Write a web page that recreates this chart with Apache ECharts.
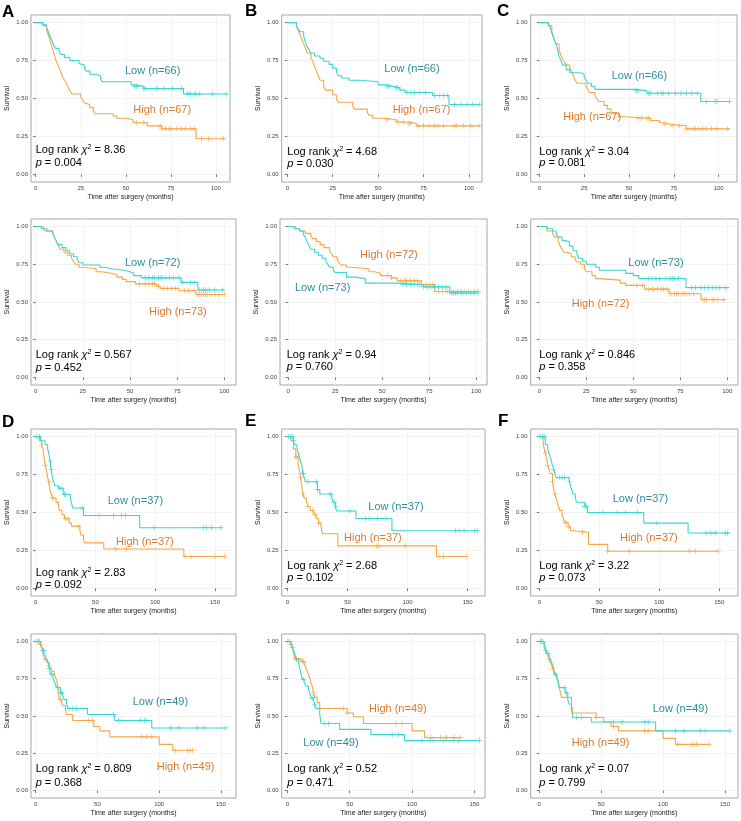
<!DOCTYPE html>
<html><head><meta charset="utf-8">
<script src="https://cdn.jsdelivr.net/npm/echarts@6/dist/echarts.min.js"></script>
<style>html,body{margin:0;padding:0;background:#fff}#c{width:741px;height:821px}</style>
</head><body><div id="c"></div>
<script>
// ---------- DATA (Kaplan-Meier step points [months, survival]) ----------
const lowA1 = [[0,1],[4,0.985],[6,0.97],[7,0.94],[8,0.91],[9,0.88],[10,0.85],[11,0.83],[13,0.81],[14,0.79],[16,0.77],[19,0.75],[24,0.73],[25,0.72],[27,0.70],[28,0.68],[30,0.66],[33,0.65],[36,0.63],[37,0.61],[53,0.59],[55,0.58],[60,0.565],[82,0.53],[106,0.53]];
const censLowA1 = [55,56,60,61,67,71,76,81,84,85,86,88,89,91,98,106];
const highA1 = [[0,1],[4,0.98],[6,0.95],[7,0.92],[8,0.88],[9,0.84],[10,0.80],[11,0.76],[12,0.73],[13,0.70],[14,0.67],[15,0.64],[16,0.62],[17,0.60],[18,0.575],[19,0.55],[20,0.53],[25,0.51],[26,0.49],[27,0.47],[28,0.46],[30,0.44],[32,0.42],[33,0.40],[43,0.385],[45,0.37],[50,0.36],[54,0.34],[62,0.32],[70,0.30],[89,0.235],[105,0.235]];
const censHighA1 = [56,60,69,70,72,74,75,78,81,83,86,88,92,96,104];

const lowB1 = [[0,1],[5,0.985],[6,0.955],[7,0.94],[9,0.91],[10,0.87],[11,0.84],[12,0.82],[13,0.80],[15,0.78],[18,0.765],[20,0.745],[23,0.725],[25,0.70],[27,0.68],[28,0.65],[30,0.635],[34,0.62],[40,0.61],[50,0.59],[55,0.58],[58,0.57],[62,0.555],[65,0.54],[80,0.52],[89,0.46],[106,0.46]];
const censLowB1 = [55,56,60,61,66,68,70,73,76,81,84,86,88,92,96,99,102,106];
const highB1 = [[0,1],[5,0.975],[6,0.95],[7,0.92],[8,0.89],[9,0.86],[10,0.83],[11,0.80],[13,0.77],[14,0.745],[15,0.71],[16,0.68],[17,0.65],[18,0.62],[20,0.58],[21,0.555],[25,0.525],[27,0.50],[28,0.475],[36,0.45],[37,0.43],[44,0.41],[45,0.39],[47,0.37],[54,0.36],[60,0.345],[67,0.335],[71,0.32],[106,0.32]];
const censHighB1 = [55,61,64,67,68,72,75,78,81,83,86,92,93,97,101,106];

const lowC1 = [[0,1],[5,0.985],[6,0.97],[7,0.93],[8,0.90],[9,0.87],[10,0.83],[11,0.78],[12,0.75],[13,0.72],[15,0.69],[17,0.67],[23,0.66],[25,0.64],[26,0.62],[27,0.60],[29,0.58],[31,0.56],[54,0.55],[60,0.535],[90,0.48],[106,0.48]];
const censLowC1 = [54,55,61,62,66,68,69,72,76,79,82,85,88,93,98,99,106];
const highC1 = [[0,1],[5,0.98],[7,0.94],[8,0.90],[9,0.86],[11,0.82],[12,0.785],[13,0.76],[14,0.74],[15,0.72],[17,0.70],[18,0.68],[19,0.65],[20,0.62],[21,0.60],[26,0.58],[27,0.56],[28,0.54],[31,0.52],[32,0.50],[33,0.48],[36,0.455],[38,0.43],[40,0.40],[44,0.38],[47,0.37],[62,0.355],[67,0.34],[70,0.33],[73,0.32],[82,0.30],[106,0.30]];
const censHighC1 = [55,57,60,61,70,74,78,82,84,86,87,89,91,93,96,99,105];

const lowA2 = [[0,1],[3,0.985],[6,0.97],[9,0.955],[10,0.93],[11,0.90],[12,0.88],[14,0.86],[16,0.84],[18,0.82],[20,0.80],[22,0.78],[23,0.76],[25,0.745],[34,0.73],[37,0.72],[40,0.71],[47,0.70],[50,0.69],[52,0.675],[56,0.66],[77,0.63],[86,0.58],[100,0.58]];
const censLowA2 = [58,60,62,63,65,66,67,69,71,73,76,78,82,84,87,89,90,92,95,99];
const highA2 = [[0,1],[4,0.985],[5,0.97],[9,0.955],[10,0.93],[11,0.90],[12,0.875],[13,0.85],[15,0.83],[17,0.81],[19,0.79],[20,0.77],[21,0.75],[23,0.73],[25,0.72],[32,0.70],[35,0.69],[40,0.68],[43,0.665],[46,0.65],[48,0.635],[53,0.62],[64,0.605],[66,0.59],[76,0.575],[85,0.55],[100,0.55]];
const censHighA2 = [55,58,60,62,63,65,68,70,72,74,79,81,84,86,87,88,89,90,91,93,95,97,100];

const lowB2 = [[0,1],[3,0.985],[6,0.97],[8,0.95],[9,0.93],[10,0.90],[11,0.875],[12,0.85],[14,0.83],[16,0.81],[18,0.79],[20,0.77],[21,0.75],[22,0.73],[24,0.71],[25,0.695],[31,0.665],[36,0.655],[41,0.625],[58,0.615],[72,0.60],[86,0.56],[101,0.56]];
const censLowB2 = [61,63,65,67,69,70,72,74,76,78,80,82,84,87,88,89,90,92,93,95,97,99,101];
const highB2 = [[0,1],[4,0.985],[6,0.97],[9,0.955],[12,0.94],[13,0.92],[15,0.90],[17,0.88],[19,0.86],[22,0.84],[23,0.82],[24,0.80],[26,0.78],[27,0.76],[28,0.745],[31,0.73],[33,0.72],[43,0.70],[46,0.69],[49,0.675],[55,0.66],[58,0.64],[71,0.615],[78,0.57],[101,0.57]];
const censHighB2 = [53,55,60,62,63,65,67,69,71,73,75,77,80,82,84,85,86,88,90,92,94,96,99,101];

const lowC2 = [[0,1],[4,0.985],[7,0.97],[9,0.95],[10,0.93],[12,0.91],[13,0.90],[16,0.87],[18,0.84],[20,0.82],[21,0.79],[23,0.77],[25,0.75],[30,0.73],[32,0.71],[46,0.69],[50,0.675],[53,0.655],[78,0.595],[101,0.595]];
const censLowC2 = [58,60,62,64,67,69,70,71,72,74,81,83,86,88,90,92,94,96,99];
const highC2 = [[0,1],[4,0.97],[7,0.955],[8,0.93],[10,0.90],[11,0.875],[12,0.85],[13,0.83],[15,0.82],[17,0.80],[19,0.78],[20,0.765],[22,0.75],[24,0.72],[25,0.70],[28,0.675],[30,0.655],[32,0.645],[43,0.625],[46,0.61],[56,0.585],[69,0.555],[86,0.515],[99,0.515]];
const censHighC2 = [52,55,58,60,61,63,65,66,68,70,72,73,74,76,77,78,80,82,87,88,89,92,93,95,98];

const lowD1 = [[0,1],[4,0.973],[8,0.946],[10,0.919],[11,0.892],[12,0.838],[13,0.784],[14,0.73],[15,0.703],[16,0.676],[19,0.66],[23,0.62],[29,0.59],[30,0.56],[31,0.53],[40,0.48],[87,0.40],[155,0.40]];
const censLowD1 = [1,3,12.5,13,20,22,24,25,39,53,65,72,75,99,140,143,147,155];
const highD1 = [[0,1],[3,0.973],[5,0.946],[6,0.919],[7,0.865],[8,0.811],[9,0.784],[10,0.73],[11,0.703],[12,0.649],[13,0.622],[14,0.595],[17,0.567],[19,0.54],[20,0.513],[22,0.486],[24,0.459],[28,0.43],[30,0.41],[37,0.38],[38,0.35],[40,0.32],[41,0.30],[57,0.26],[124,0.21],[158,0.21]];
const censHighD1 = [5,8,11,14,25,27,36,67,76,125,130,150,158];

const lowE1 = [[0,1],[5,0.973],[6,0.946],[8,0.919],[9,0.892],[10,0.865],[11,0.838],[12,0.81],[13,0.757],[14,0.73],[15,0.703],[25,0.65],[27,0.622],[37,0.595],[38,0.567],[40,0.54],[41,0.51],[57,0.46],[87,0.38],[158,0.38]];
const censLowE1 = [1,3,4,5,13,13.5,17,24,25,36,39,40,52,65,68,75,82,140,143,147,156,158];
const highE1 = [[0,1],[3,0.973],[5,0.919],[7,0.865],[9,0.811],[10,0.784],[11,0.73],[12,0.676],[13,0.622],[14,0.595],[16,0.567],[17,0.54],[19,0.513],[22,0.486],[24,0.459],[26,0.43],[28,0.405],[29,0.36],[42,0.28],[124,0.21],[149,0.21]];
const censHighE1 = [7,8,11,13,17,21,23,26,74,76,98,126,130,149];

const lowF1 = [[0,1],[5,0.946],[7,0.919],[8,0.892],[9,0.865],[10,0.838],[11,0.81],[12,0.784],[13,0.757],[14,0.73],[25,0.703],[26,0.676],[27,0.649],[28,0.622],[30,0.595],[31,0.568],[38,0.541],[40,0.50],[87,0.43],[124,0.365],[158,0.365]];
const censLowF1 = [1,3,4,12,17,19,21,25,38,39,53,65,72,82,98,139,143,147,155,157];
const highF1 = [[0,1],[3,0.973],[4,0.919],[5,0.892],[6,0.865],[7,0.811],[8,0.784],[9,0.757],[11,0.703],[12,0.649],[13,0.622],[14,0.595],[15,0.568],[16,0.541],[17,0.514],[19,0.487],[20,0.46],[21,0.433],[24,0.406],[26,0.38],[28,0.37],[41,0.29],[57,0.245],[149,0.245]];
const censHighF1 = [5,7,11,13,22,24,36,57,75,125,130,149];

const lowD2 = [[0,1],[4,0.98],[5,0.96],[6,0.94],[7,0.92],[8,0.90],[9,0.88],[10,0.86],[11,0.82],[12,0.78],[14,0.755],[15,0.735],[16,0.71],[17,0.69],[20,0.655],[22,0.63],[23,0.61],[25,0.585],[26,0.55],[42,0.51],[64,0.47],[94,0.42],[154,0.42]];
const censLowD2 = [1,2,3,6,6.5,11,13,18,20,21,27,30,33,63,67,85,88,90,109,116,131,136,154];
const highD2 = [[0,1],[4,0.98],[5,0.96],[6,0.92],[7,0.88],[9,0.86],[11,0.84],[12,0.82],[13,0.80],[15,0.78],[16,0.76],[17,0.74],[18,0.69],[19,0.61],[21,0.59],[22,0.57],[24,0.55],[25,0.51],[30,0.47],[47,0.43],[52,0.40],[60,0.36],[100,0.31],[111,0.27],[127,0.27]];
const censHighD2 = [4,8,11,20,43,46,86,90,94,113,123,125,127];

const lowE2 = [[0,1],[3,0.98],[4,0.96],[5,0.94],[6,0.92],[7,0.88],[9,0.86],[10,0.82],[11,0.78],[12,0.745],[14,0.72],[15,0.70],[17,0.675],[18,0.655],[19,0.62],[21,0.60],[22,0.575],[23,0.55],[26,0.51],[27,0.45],[42,0.41],[67,0.375],[94,0.335],[154,0.335]];
const censLowE2 = [0.5,2,4,7.5,13,20,22,30,33,84,89,108,115,117,125,133,137,154];
const highE2 = [[0,1],[3,0.98],[4,0.96],[5,0.92],[6,0.885],[11,0.865],[14,0.84],[15,0.82],[16,0.80],[17,0.78],[18,0.755],[19,0.72],[20,0.70],[21,0.655],[22,0.625],[24,0.59],[26,0.55],[48,0.52],[53,0.495],[61,0.45],[100,0.40],[110,0.355],[139,0.355]];
const censHighE2 = [3,7,12,13,21,45,48,87,92,115,123,127,128,134,139];

const lowF2 = [[0,1],[4,0.96],[5,0.94],[6,0.92],[8,0.90],[9,0.88],[10,0.86],[11,0.84],[12,0.78],[14,0.76],[15,0.735],[16,0.69],[21,0.655],[23,0.61],[24,0.58],[26,0.55],[27,0.49],[42,0.46],[94,0.40],[154,0.40]];
const censLowF2 = [1,2,3,5,7,13,20,22,30,34,60,67,85,88,110,117,130,134,154];
const highF2 = [[0,1],[4,0.98],[5,0.96],[6,0.92],[7,0.90],[8,0.88],[9,0.86],[10,0.84],[11,0.82],[12,0.80],[13,0.78],[14,0.76],[15,0.74],[16,0.70],[17,0.66],[18,0.625],[26,0.58],[27,0.52],[46,0.49],[52,0.46],[58,0.43],[64,0.40],[100,0.35],[110,0.31],[137,0.31]];
const censHighF2 = [8,11,46,60,85,88,112,123,125,127,137];

const lowLabels  = ['Low (n=66)','Low (n=66)','Low (n=66)','Low (n=72)','Low (n=73)','Low (n=73)','Low (n=37)','Low (n=37)','Low (n=37)','Low (n=49)','Low (n=49)','Low (n=49)'];
const highLabels = ['High (n=67)','High (n=67)','High (n=67)','High (n=73)','High (n=72)','High (n=72)','High (n=37)','High (n=37)','High (n=37)','High (n=49)','High (n=49)','High (n=49)'];
const chiValues = ['8.36','4.68','3.04','0.567','0.94','0.846','2.83','2.68','3.22','0.809','0.52','0.07'];
const pValues = ['0.004','0.030','0.081','0.452','0.760','0.358','0.092','0.102','0.073','0.368','0.471','0.799'];
const xTicksShort = [0,25,50,75,100];
const xTicksLong = [0,50,100,150];
const yTicks = [0,0.25,0.5,0.75,1];
const panelLetters = ['A','B','C','D','E','F'];

// ---------- LAYOUT ----------
const curves = [
  [lowA1,highA1,censLowA1,censHighA1],[lowB1,highB1,censLowB1,censHighB1],[lowC1,highC1,censLowC1,censHighC1],
  [lowA2,highA2,censLowA2,censHighA2],[lowB2,highB2,censLowB2,censHighB2],[lowC2,highC2,censLowC2,censHighC2],
  [lowD1,highD1,censLowD1,censHighD1],[lowE1,highE1,censLowE1,censHighE1],[lowF1,highF1,censLowF1,censHighF1],
  [lowD2,highD2,censLowD2,censHighD2],[lowE2,highE2,censLowE2,censHighE2],[lowF2,highF2,censLowF2,censHighF2]
];
const rowBox = [[15,182],[219,385],[429,596],[634,798]];
// [left, right, xmin, xmax]
const colBox = [
  [31,230,-2.6,107.8],[281.7,482,-3.1,107.2],[530.7,737,-4.8,110.2],
  [31,236,-2.5,106.2],[280,487,-4.4,105.8],[530.7,738,-4.6,105.7],
  [31,236,-3.9,167.6],[281.7,485,-4.7,164.4],[530.7,738,-7.2,165.6],
  [31,236,-3.8,162.2],[281.7,485,-4.5,158.5],[530.7,738,-6.9,160.5]
];
// text positions: [lowX,lowY, highX,highY, logX,logY, pY]
const textPos = [
  [125,70.7,133.3,110,35.7,150,163.3],
  [384.3,69,392.7,110,287.3,151.7,164.3],
  [611.7,76,563.3,116.7,539.3,152.3,163.3],
  [125,263.3,149,311.7,35.7,355,368.3],
  [295,287.7,360,255,286.7,355,367],
  [628.3,263.3,571.7,304,539.3,355,367],
  [107.7,500.7,116,541.7,35.7,573.3,585],
  [368.3,506.7,344,538.3,287.3,566,578.3],
  [612.7,499.3,620,538.3,539.3,566,578.3],
  [132.7,701.7,156.7,766.7,35.7,769.3,782.7],
  [303.3,742.7,369,709.3,287.3,769.3,782.7],
  [652.7,709.3,571.7,742.7,539.3,769.3,782.7]
];
const letterPos = [[2,12.5],[245,11],[497,11.5],[2,422],[245,421.5],[498,421.5]];

const LOW_LINE = '#38d6d2', HIGH_LINE = '#f6a646';
const LOW_TXT = '#2e8e9e', HIGH_TXT = '#db7a2e';
const FONT = "'Liberation Sans', Arial, Helvetica, sans-serif";
const PLUS = 'path://M-0.14,-1H0.14V-0.14H1V0.14H0.14V1H-0.14V0.14H-1V-0.14H-0.14Z';

function survAt(curve, t) {
  let s = 1;
  for (const [ti, si] of curve) { if (ti <= t) s = si; else break; }
  return s;
}

const grids = [], xAxes = [], yAxes = [], series = [], graphics = [];
curves.forEach((c, i) => {
  const row = Math.floor(i / 3);
  const [l, r, xmin, xmax] = colBox[i];
  const [t, b] = rowBox[row];
  grids.push({left: l, top: t, width: r - l, height: b - t, show: true, borderColor: '#a6a6a6', borderWidth: 1, backgroundColor: '#fff'});
  const ticks = row < 2 ? xTicksShort : xTicksLong;
  xAxes.push({type: 'value', gridIndex: i, min: xmin, max: xmax,
    name: 'Time after surgery (months)', nameLocation: 'middle', nameGap: 12,
    nameTextStyle: {fontSize: 7, color: '#222', fontFamily: FONT},
    axisLine: {show: false},
    axisTick: {show: true, length: 2.5, inside: false, customValues: ticks, lineStyle: {color: '#555', width: 0.8}},
    axisLabel: {customValues: ticks, fontSize: 6, color: '#444', margin: 3, fontFamily: FONT},
    splitLine: {show: true, lineStyle: {color: '#f0f0f0', width: 0.8}}
  });
  yAxes.push({type: 'value', gridIndex: i, min: -0.05, max: 1.05,
    name: 'Survival', nameLocation: 'middle', nameGap: 20, nameRotate: 90,
    nameTextStyle: {fontSize: 7, color: '#222', fontFamily: FONT},
    axisLine: {show: false},
    axisTick: {show: true, length: 2.5, customValues: yTicks, lineStyle: {color: '#555', width: 0.8}},
    axisLabel: {customValues: yTicks, fontSize: 6, color: '#444', margin: 3, fontFamily: FONT, formatter: v => v.toFixed(2)},
    splitLine: {show: true, lineStyle: {color: '#f0f0f0', width: 0.8}}
  });
  const [low, high, cLow, cHigh] = c;
  series.push({type: 'line', xAxisIndex: i, yAxisIndex: i, data: high, step: 'end', showSymbol: false, symbol: 'none',
    lineStyle: {color: HIGH_LINE, width: 1.1}, z: 2, silent: true});
  series.push({type: 'line', xAxisIndex: i, yAxisIndex: i, data: low, step: 'end', showSymbol: false, symbol: 'none',
    lineStyle: {color: LOW_LINE, width: 1.1}, z: 3, silent: true});
  series.push({type: 'scatter', xAxisIndex: i, yAxisIndex: i, data: cHigh.map(tt => [tt, survAt(high, tt)]),
    symbol: PLUS, symbolSize: 5.5, itemStyle: {color: HIGH_LINE}, z: 4, silent: true});
  series.push({type: 'scatter', xAxisIndex: i, yAxisIndex: i, data: cLow.map(tt => [tt, survAt(low, tt)]),
    symbol: PLUS, symbolSize: 5.5, itemStyle: {color: LOW_LINE}, z: 5, silent: true});

  const p = textPos[i];
  graphics.push({type: 'text', x: p[0], y: p[1], z: 100, style: {text: lowLabels[i], fill: LOW_TXT, fontSize: 11, fontFamily: FONT, align: 'left', verticalAlign: 'middle'}});
  graphics.push({type: 'text', x: p[2], y: p[3], z: 100, style: {text: highLabels[i], fill: HIGH_TXT, fontSize: 11, fontFamily: FONT, align: 'left', verticalAlign: 'middle'}});
  graphics.push({type: 'text', x: p[4], y: p[5], z: 100, style: {
    text: '{t|Log rank }{g|\u03c7}{s|2}{t| = ' + chiValues[i] + '}',
    align: 'left', verticalAlign: 'middle',
    rich: {
      t: {fontSize: 11, fontFamily: FONT, fill: '#000', lineHeight: 13},
      g: {fontSize: 11, fontFamily: FONT, fill: '#000', fontStyle: 'italic', lineHeight: 13},
      s: {fontSize: 7, fontFamily: FONT, fill: '#000', verticalAlign: 'top', lineHeight: 13}
    }}});
  graphics.push({type: 'text', x: p[4], y: p[6], z: 100, style: {
    text: '{i|p}{t| = ' + pValues[i] + '}',
    align: 'left', verticalAlign: 'middle',
    rich: {
      t: {fontSize: 11, fontFamily: FONT, fill: '#000'},
      i: {fontSize: 11, fontFamily: FONT, fill: '#000', fontStyle: 'italic'}
    }}});
});
panelLetters.forEach((L, k) => {
  graphics.push({type: 'text', x: letterPos[k][0], y: letterPos[k][1], z: 100,
    style: {text: L, fill: '#000', fontSize: 17, fontWeight: 'bold', fontFamily: FONT, align: 'left', verticalAlign: 'middle'}});
});

const chart = echarts.init(document.getElementById('c'), null, {renderer: 'canvas'});
chart.setOption({
  animation: false,
  backgroundColor: '#fff',
  grid: grids, xAxis: xAxes, yAxis: yAxes, series: series,
  graphic: graphics
});
</script></body></html>
